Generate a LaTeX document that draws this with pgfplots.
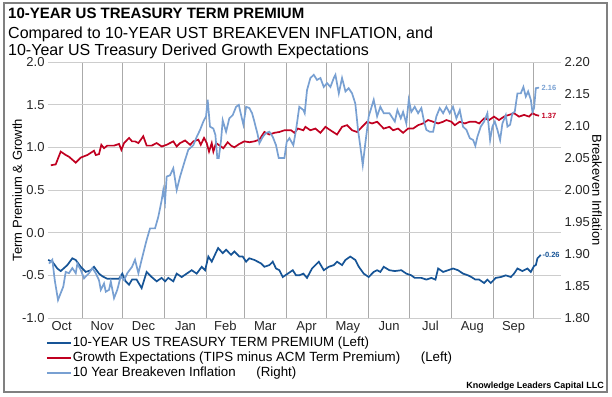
\documentclass[border=0pt]{standalone}
\usepackage{pgfplots}
\pgfplotsset{compat=1.18}
\usepackage{fontspec}
\setmainfont{Liberation Sans}
\definecolor{tpblue}{RGB}{22,84,150}
\definecolor{grred}{RGB}{192,0,32}
\definecolor{beblue}{RGB}{120,160,210}
\definecolor{vgrid}{RGB}{170,170,170}
\definecolor{hgrid}{RGB}{205,205,205}
\definecolor{frame}{RGB}{128,128,128}
\newcommand{\fs}[1]{\fontsize{#1bp}{1.2\dimexpr#1bp\relax}\selectfont}
\begin{document}
\begin{tikzpicture}
\useasboundingbox (0,0) rectangle (612bp,397bp);
\draw[line width=2.5bp, frame] (4bp,5bp) rectangle (607bp,394bp);
\node[anchor=base west, inner sep=0pt, font=\fs{15}\bfseries] at (8bp,378bp) {10-YEAR US TREASURY TERM PREMIUM};
\node[anchor=base west, inner sep=0pt, font=\fs{16}] at (8bp,358bp) {Compared to 10-YEAR UST BREAKEVEN INFLATION, and};
\node[anchor=base west, inner sep=0pt, font=\fs{16}] at (8bp,341bp) {10-Year US Treasury Derived Growth Expectations};
\node[anchor=base east, inner sep=0pt, font=\fs{9}\bfseries] at (604bp,9bp) {Knowledge Leaders Capital LLC};

\begin{axis}[
  at={(48bp,79bp)}, anchor=south west, width=513bp, height=256bp, scale only axis,
  xmin=5.9, xmax=385, ymin=-1, ymax=2,
  clip mode=individual,
  axis line style={draw=none}, tick style={draw=none},
  /pgf/number format/assume math mode=true,
  tick label style={font=\fs{13}, text=black!85},
  xtick={16,46,76.5,107.5,137,166.5,197,227.5,258,288.5,319.5,350},
  xticklabels={Oct,Nov,Dec,Jan,Feb,Mar,Apr,May,Jun,Jul,Aug,Sep},
  minor xtick={31,61,92,123,151,182,212,243,273,304,335,365},
  xminorgrids, minor grid style={vgrid, line width=0.9bp},
  ytick={-1,-0.5,0,0.5,1,1.5,2},
  yticklabel={\pgfmathprintnumber[fixed,fixed zerofill,precision=1]{\tick}},
  ymajorgrids, major grid style={hgrid, line width=0.9bp},
  ylabel={Term Premium \& Growth},
  every axis y label/.style={at={(axis description cs:-0.06,0.5)}, anchor=center, rotate=90, font=\fs{13}},
]
\addplot[tpblue, line width=1.7bp] coordinates {
(6,-0.32)(9.1,-0.34)(12.8,-0.42)(15.3,-0.45)(20.2,-0.38)(23.9,-0.30)(26.4,-0.32)(30.1,-0.40)(33.8,-0.46)(37.5,-0.44)(39.9,-0.40)(43.6,-0.48)(46,-0.51)(49.7,-0.54)(54.7,-0.54)(58.4,-0.54)(60.8,-0.48)(63.3,-0.57)(65.8,-0.61)(68,-0.55)(71.4,-0.55)(75.1,-0.65)(78.8,-0.46)(82.5,-0.52)(86.2,-0.57)(89.9,-0.53)(92.4,-0.57)(94.8,-0.53)(98.5,-0.57)(101,-0.48)(104.7,-0.52)(108.4,-0.48)(112.1,-0.44)(115.8,-0.48)(119.5,-0.40)(122,-0.44)(124.4,-0.28)(126.9,-0.34)(131.6,-0.18)(135,-0.24)(137.5,-0.20)(141.2,-0.26)(143.6,-0.22)(147.3,-0.28)(149.8,-0.28)(152.3,-0.34)(154.7,-0.30)(158.4,-0.32)(160.9,-0.34)(163.3,-0.36)(165.8,-0.40)(169.5,-0.38)(172,-0.34)(174.4,-0.42)(176.9,-0.44)(179.4,-0.52)(183.1,-0.48)(186.8,-0.44)(189.2,-0.50)(191.6,-0.50)(194.6,-0.48)(197.3,-0.53)(201,-0.42)(206,-0.34)(209.7,-0.44)(213.4,-0.40)(217.1,-0.38)(219.5,-0.34)(223.2,-0.38)(225.7,-0.32)(229.3,-0.28)(233,-0.32)(235.6,-0.40)(239.2,-0.48)(242.9,-0.52)(246.6,-0.46)(249.1,-0.44)(251.5,-0.46)(254,-0.40)(258.2,-0.44)(262.2,-0.45)(267,-0.44)(270.7,-0.48)(274.4,-0.50)(276.9,-0.53)(281.8,-0.53)(285.5,-0.55)(289.2,-0.53)(292.2,-0.55)(294.2,-0.42)(297.9,-0.46)(301.6,-0.44)(305.2,-0.42)(308.9,-0.44)(312.6,-0.48)(316.3,-0.50)(318.8,-0.52)(321.7,-0.55)(324.5,-0.55)(328.2,-0.59)(330.6,-0.55)(333.1,-0.59)(336.8,-0.53)(340.5,-0.52)(344.2,-0.50)(347.9,-0.52)(350.3,-0.48)(352.8,-0.42)(356.5,-0.45)(360.2,-0.42)(362.7,-0.46)(365.1,-0.39)(366.4,-0.38)(367.6,-0.30)(370.1,-0.26)
};
\addplot[grred, line width=1.7bp] coordinates {
(8,0.79)(11.6,0.80)(15.3,0.95)(17.2,0.93)(19,0.91)(21.4,0.89)(26.4,0.82)(30.1,0.88)(35,0.91)(39.9,0.96)(41.2,0.91)(43.6,0.92)(45.3,1.03)(47.3,0.99)(49.7,1.02)(54.7,1.02)(58.4,1.04)(60.1,0.97)(62.1,1.05)(65.8,1.11)(68,1.07)(70.2,1.07)(72.7,1.05)(76.3,1.13)(78.8,1.02)(82.5,1.02)(86.2,1.05)(89.9,1.01)(93.6,1.03)(98.5,1.07)(101,1.01)(103.5,1.05)(107.2,1.08)(110.9,1.03)(113.3,1.07)(117,1.09)(118.8,1.03)(121.2,1.11)(123.2,1.05)(124.9,0.95)(126.9,1.05)(128.1,0.95)(130.1,1.05)(135.5,0.99)(138.7,1.06)(141.2,1.02)(143.6,1.00)(147.3,1.04)(151,1.07)(154.7,1.06)(158.4,1.07)(162.1,1.09)(165.8,1.18)(169.5,1.15)(173.2,1.17)(176.9,1.18)(180.6,1.20)(185.5,1.20)(188,1.17)(190.5,1.22)(194.6,1.20)(196.1,1.24)(199.8,1.20)(203.5,1.22)(207.2,1.17)(210.9,1.24)(214.6,1.20)(219.5,1.15)(223.2,1.24)(226.9,1.26)(230.6,1.20)(234.3,1.18)(238,1.24)(241.7,1.30)(245.4,1.28)(249.1,1.30)(254,1.22)(258.2,1.24)(260.9,1.20)(264.6,1.22)(268.3,1.17)(272,1.22)(275.7,1.22)(279.4,1.26)(283.1,1.28)(286.8,1.32)(290.5,1.30)(294.2,1.28)(297.9,1.30)(300.3,1.32)(304,1.30)(306.5,1.26)(310.2,1.30)(313.9,1.28)(317.6,1.30)(321.7,1.30)(324.5,1.28)(328.2,1.34)(331.9,1.32)(335.5,1.36)(339.2,1.32)(342.9,1.36)(346.6,1.38)(350.3,1.40)(354,1.36)(357.7,1.38)(361.4,1.36)(363.9,1.40)(366.4,1.38)(368.8,1.37)
};
\node[anchor=west, inner sep=1.5bp, font=\fs{7.5}\bfseries, text=tpblue] at (axis cs:370.1,-0.26) {-0.26};
\node[anchor=west, inner sep=1.5bp, font=\fs{7.5}\bfseries, text=grred] at (axis cs:369.5,1.37) {1.37};
\end{axis}

\begin{axis}[
  at={(48bp,79bp)}, anchor=south west, width=513bp, height=256bp, scale only axis,
  xmin=5.9, xmax=385, ymin=1.8, ymax=2.2,
  clip mode=individual,
  axis x line=none, axis y line*=right,
  axis line style={draw=none}, tick style={draw=none},
  /pgf/number format/assume math mode=true,
  tick label style={font=\fs{13}, text=black!85},
  ytick={1.8,1.85,1.9,1.95,2.0,2.05,2.1,2.15,2.2},
  yticklabel={\pgfmathprintnumber[fixed,fixed zerofill,precision=2]{\tick}},
  ylabel={Breakeven Inflation},
  every axis y label/.style={at={(axis description cs:1.07,0.5)}, anchor=center, rotate=-90, font=\fs{13}},
  legend image code/.code={\draw[#1] (0bp,0bp) -- (24bp,0bp);},
  legend cell align=left,
  legend style={at={(axis description cs:-0.004,-0.068)}, anchor=north west, draw=none, fill=none,
    inner sep=0pt, row sep=0pt, font=\fs{13.3},
    nodes={inner sep=1bp, text height=10bp, text depth=3bp},
    /tikz/every even column/.append style={column sep=1bp}},
]
\addlegendimage{tpblue, line width=1.7bp}
\addlegendentry{10-YEAR US TREASURY TERM PREMIUM (Left)}
\addlegendimage{grred, line width=1.7bp}
\addlegendentry{Growth Expectations (TIPS minus ACM Term Premium)\hspace{17bp} (Left)}
\addplot[beblue, line width=1.7bp] coordinates {
(6.7,1.885)(9.1,1.891)(10.9,1.859)(13.3,1.828)(15.3,1.839)(17.2,1.849)(19,1.872)(21.4,1.870)(23.9,1.878)(26.4,1.870)(27.6,1.885)(30.1,1.875)(32.5,1.862)(36.2,1.870)(38.7,1.878)(41.2,1.870)(43.6,1.859)(44.9,1.844)(47.3,1.854)(48.6,1.841)(51,1.844)(52.3,1.857)(54.7,1.831)(57.1,1.844)(59.6,1.865)(62.1,1.859)(64.5,1.870)(68,1.880)(70.2,1.891)(72.7,1.870)(75.1,1.891)(78.8,1.922)(81.3,1.94)(85,1.94)(87.4,1.958)(89.9,1.984)(91.1,2.0)(92.4,1.982)(93.6,2.021)(96.1,2.023)(98.5,2.034)(101,2.0)(103.5,2.021)(107.2,2.047)(109.6,2.063)(113.3,2.070)(115.8,2.083)(118.3,2.094)(120.7,2.107)(122.7,2.115)(123.9,2.141)(125.6,2.099)(128.1,2.096)(129.6,2.086)(131,2.05)(132.1,2.05)(133.8,2.078)(135,2.109)(137.5,2.091)(139.9,2.112)(142.4,2.117)(144.9,2.13)(146.9,2.133)(148.6,2.117)(150.3,2.102)(152.3,2.13)(154.7,2.128)(156.7,2.120)(158.4,2.107)(160.9,2.086)(162.1,2.073)(164.6,2.083)(167,2.089)(169.5,2.091)(172,2.083)(174.4,2.070)(176.4,2.05)(180.6,2.05)(182.3,2.075)(184.3,2.081)(187.2,2.070)(189.2,2.094)(191.6,2.13)(194.6,2.125)(195.6,2.120)(197.3,2.156)(199.8,2.175)(202.3,2.18)(204.7,2.172)(207.2,2.175)(209.7,2.161)(212.1,2.167)(214.6,2.161)(217.1,2.175)(218.3,2.18)(220.8,2.151)(223.2,2.175)(225.7,2.154)(228.1,2.159)(230.6,2.151)(233,2.135)(235,2.094)(236.7,2.068)(238.5,2.039)(240.4,2.073)(242.9,2.115)(246.6,2.141)(249.1,2.115)(251.5,2.130)(254,2.120)(258.2,2.120)(262.2,2.107)(264.1,2.125)(266.6,2.112)(268.3,2.122)(270.7,2.104)(272.5,2.141)(274.4,2.122)(276.9,2.130)(279.4,2.120)(281.8,2.128)(283.8,2.107)(285.5,2.094)(288,2.091)(290.5,2.091)(292.9,2.115)(295.4,2.128)(297.9,2.12)(300.3,2.13)(302.8,2.12)(305.2,2.13)(307.7,2.112)(310.2,2.125)(312.6,2.099)(315.1,2.094)(317.6,2.081)(320.1,2.078)(321.7,2.069)(323.2,2.083)(325.7,2.099)(328.2,2.107)(330.6,2.12)(332.6,2.078)(334.3,2.099)(336.1,2.107)(338,2.094)(340,2.078)(341.7,2.104)(344.2,2.117)(345.4,2.099)(347.4,2.102)(349.1,2.12)(350.8,2.122)(352.8,2.151)(355.3,2.151)(357.2,2.161)(359,2.146)(360.7,2.154)(362.7,2.141)(363.9,2.122)(365.1,2.128)(366.4,2.159)(368.8,2.16)
};
\addlegendentry{10 Year Breakeven Inflation\hspace{17bp} (Right)}
\node[anchor=west, inner sep=1.5bp, font=\fs{7.5}\bfseries, text=beblue] at (axis cs:369.5,2.16) {2.16};
\end{axis}
\end{tikzpicture}
\end{document}
